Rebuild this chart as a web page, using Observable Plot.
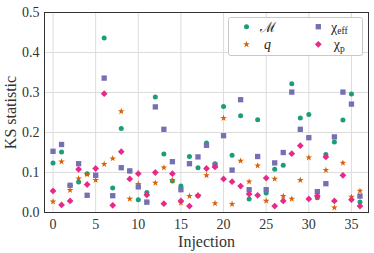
<!DOCTYPE html>
<html><head><meta charset="utf-8">
<script src="https://cdn.jsdelivr.net/npm/d3@7"></script>
<script src="https://cdn.jsdelivr.net/npm/@observablehq/plot@0.6"></script>
<style>body{margin:0;background:#fff} svg{display:block} svg, svg text{font-family:'Liberation Serif','DejaVu Serif',serif !important}</style>
</head><body><div id="chart"></div>
<script>
const injections = [0,1,2,3,4,5,6,7,8,9,10,11,12,13,14,15,16,17,18,19,20,21,22,23,24,25,26,27,28,29,30,31,32,33,34,35,36];
const ksM    = [0.124,0.151,0.068,0.076,0.097,0.093,0.436,0.061,0.210,0.104,0.032,0.050,0.289,0.146,0.079,0.066,0.140,0.112,0.174,0.122,0.265,0.143,0.242,0.034,0.232,0.049,0.108,0.118,0.322,0.236,0.245,0.037,0.145,0.176,0.231,0.296,0.026];
const ksQ    = [0.027,0.127,0.056,0.085,0.095,0.081,0.121,0.135,0.253,0.034,0.071,0.025,0.074,0.112,0.081,0.024,0.041,0.043,0.093,0.023,0.236,0.021,0.129,0.077,0.117,0.029,0.084,0.041,0.034,0.081,0.137,0.040,0.106,0.012,0.124,0.039,0.054];
const ksChiEff = [0.153,0.170,0.068,0.122,0.043,0.093,0.336,0.042,0.112,0.104,0.064,0.026,0.264,0.208,0.127,0.057,0.122,0.139,0.168,0.118,0.192,0.106,0.282,0.057,0.140,0.057,0.124,0.150,0.301,0.208,0.187,0.052,0.072,0.189,0.301,0.271,0.041];
const ksChiP = [0.054,0.019,0.029,0.108,0.070,0.110,0.297,0.018,0.152,0.084,0.097,0.044,0.100,0.022,0.097,0.029,0.016,0.042,0.110,0.114,0.084,0.077,0.066,0.046,0.043,0.086,0.016,0.029,0.147,0.167,0.034,0.041,0.139,0.029,0.093,0.032,0.016];
const xTicks = [0,5,10,15,20,25,30,35];
const yTicks = [0,0.1,0.2,0.3,0.4,0.5];

const cM = "#1b9e77", cQ = "#d95f02", cE = "#7570b3", cP = "#e7298a";
const diamondSym = {draw(ctx, size){ const s = Math.sqrt(size/2); ctx.moveTo(0,-s); ctx.lineTo(s,0); ctx.lineTo(0,s); ctx.lineTo(-s,0); ctx.closePath(); }};
const series = (vals) => injections.map((i,k) => ({x:i, y:vals[k]}));

const font = "'Liberation Serif', 'DejaVu Serif', serif";
const plot = Plot.plot({
  width: 374, height: 253,
  marginLeft: 44, marginRight: 6, marginTop: 12, marginBottom: 41,
  style: {fontFamily: font, fontSize: "14px", color: "#333", background: "white"},
  x: {domain: [-1, 37]},
  y: {domain: [0, 0.5]},
  marks: [
    Plot.gridX(xTicks, {stroke: "#dcdcdc", strokeOpacity: 1}),
    Plot.gridY(yTicks, {stroke: "#dcdcdc", strokeOpacity: 1}),
    Plot.axisX(xTicks, {tickSize: 0, tickPadding: 7, label: "Injection", labelAnchor: "center", labelArrow: "none", labelOffset: 34, fontSize: 14, tickFormat: d => String(d)}),
    Plot.axisY(yTicks, {tickSize: 0, tickPadding: 5, label: "KS statistic", labelAnchor: "center", labelArrow: "none", labelOffset: 40, fontSize: 14, tickFormat: d => d.toFixed(1)}),
    Plot.dot(series(ksM), {x: "x", y: "y", symbol: "circle", fill: cM, r: 2.5}),
    Plot.dot(series(ksQ), {x: "x", y: "y", symbol: "star", fill: cQ, r: 2.1}),
    Plot.dot(series(ksChiEff), {x: "x", y: "y", symbol: "square", fill: cE, r: 3.0}),
    Plot.dot(series(ksChiP), {x: "x", y: "y", symbol: diamondSym, fill: cP, r: 2.7}),
    Plot.frame({stroke: "#333", strokeWidth: 1})
  ]
});
document.getElementById("chart").append(plot);

// axis label font sizes
d3.select(plot).selectAll("[aria-label='x-axis label'] text, [aria-label='y-axis label'] text").style("font-size", "16px");

// legend
const svg = d3.select(plot);
const lg = svg.append("g").attr("font-family", font);
lg.append("rect").attr("x", 228.5).attr("y", 17.5).attr("width", 134).attr("height", 38).attr("rx", 2)
  .attr("fill", "white").attr("fill-opacity", 0.9).attr("stroke", "#c8c8c8");
const legendItems = [
  {sym: d3.symbolCircle, r: 2.5, color: cM, label: "ℳ", sub: "", x: 246.5, y: 26.7},
  {sym: d3.symbolStar, r: 2.1, color: cQ, label: "q", sub: "", x: 246.5, y: 44.3, italic: true},
  {sym: d3.symbolSquare, r: 3.0, color: cE, label: "χ", sub: "eff", x: 318.3, y: 26.7},
  {sym: diamondSym, r: 2.7, color: cP, label: "χ", sub: "p", x: 318.3, y: 44.3}
];
for (const it of legendItems) {
  lg.append("path").attr("d", d3.symbol(it.sym, Math.PI * it.r * it.r)()).attr("fill", it.color)
    .attr("transform", `translate(${it.x},${it.y})`);
  const t = lg.append("text").attr("x", it.x + 21).attr("y", it.y).attr("dy", "0.35em")
    .attr("font-size", 14).attr("fill", "#222");
  t.append("tspan").text(it.label).attr("font-style", it.italic ? "italic" : "normal");
  if (it.sub) t.append("tspan").text(it.sub).attr("font-size", 9.5).attr("dy", "0.3em");
}
</script>
</body></html>
